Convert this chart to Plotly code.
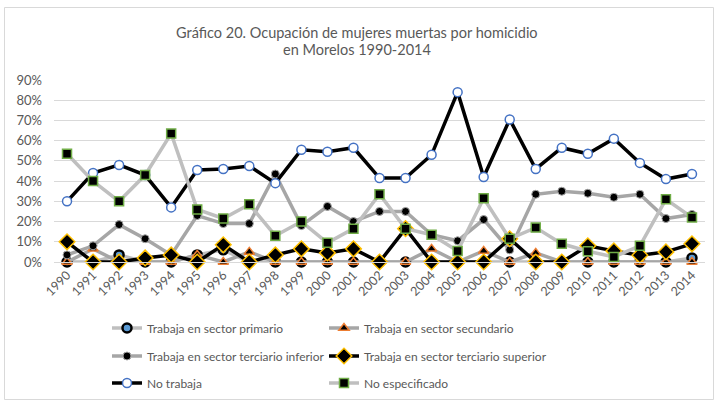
import plotly.graph_objects as go

years = list(range(1990, 2015))
y_ticks = [0, 10, 20, 30, 40, 50, 60, 70, 80, 90]

primario = [0, 0, 3.5, 0, 0, 3.5, 6, 0, 0, 0, 0, 0, 0, 0, 0, 0, 0, 0, 0, 0, 0, 0, 0, 0, 2]
secundario = [0, 6.5, 0, 0, 0, 3.5, 0, 5, 0, 0, 0, 0, 0, 0, 6.5, 0, 5.5, 0, 4.5, 0, 0, 0, 0, 0, 0]
terc_inf = [3.5, 8, 18.5, 11.5, 3.5, 23, 19, 19, 43.5, 18, 27.5, 20, 25, 25, 13.5, 10.5, 21, 6, 33.5, 35, 34, 32, 33.5, 21.5, 23.5]
terc_sup = [10, 0, 0, 2, 3.5, 0, 8.5, 0, 3.5, 6.5, 4.5, 6.5, 0, 16.5, 0, 0, 0, 11.5, 0, 0, 8, 5.5, 3.3, 5, 9]
no_trabaja = [30, 44, 48, 43, 27, 45.5, 46, 47.5, 39, 55.5, 54.5, 56.5, 41.5, 41.5, 53, 84, 42, 70.5, 46, 56.5, 53.5, 61, 49, 41, 43.5]
no_esp = [53.5, 40, 30, 43, 63.5, 26, 21.5, 28.5, 13, 20, 9.5, 16.5, 33.5, 16.5, 13.5, 5.5, 31.5, 11.5, 17, 9, 5.3, 2.5, 8, 31, 22]

title_lines = ["Gráfico 20. Ocupación de mujeres muertas por homicidio", "en Morelos 1990-2014"]

FONT = "Lato"
TXT = "#595959"

series = [
    ("Trabaja en sector primario", primario, "#bfbfbf", dict(symbol="circle", size=9, color="#5b9bd5", line=dict(color="#000000", width=2.5))),
    ("Trabaja en sector secundario", secundario, "#a6a6a6", dict(symbol="triangle-up", size=9, color="#000000", line=dict(color="#ed7d31", width=1.5))),
    ("Trabaja en sector terciario inferior", terc_inf, "#a6a6a6", dict(symbol="circle", size=8, color="#000000", line=dict(color="#a6a6a6", width=1))),
    ("Trabaja en sector terciario superior", terc_sup, "#000000", dict(symbol="diamond", size=12, color="#000000", line=dict(color="#ffc000", width=1.5))),
    ("No trabaja", no_trabaja, "#000000", dict(symbol="circle", size=9, color="#ffffff", line=dict(color="#4472c4", width=1.5))),
    ("No especificado", no_esp, "#bfbfbf", dict(symbol="square", size=9, color="#000000", line=dict(color="#70ad47", width=1.5))),
]

W, H = 714, 400
L, R, T, B = 54, 9, 80, 138
leg_rows = [328, 356, 383]
leg_cols = [107, 324]

fig = go.Figure()
legends = {}
for i, (name, vals, lc, mk) in enumerate(series):
    key = "legend" if i == 0 else f"legend{i + 1}"
    fig.add_trace(go.Scatter(
        x=years, y=vals, name=name, mode="lines+markers",
        line=dict(color=lc, width=3.5), marker=mk, cliponaxis=False, legend=key,
    ))
    legends[key] = dict(
        orientation="v", xref="container", yref="container",
        x=leg_cols[i % 2] / W, y=1 - leg_rows[i // 2] / H, xanchor="left", yanchor="middle",
        font=dict(family=FONT, size=12, color=TXT), bgcolor="rgba(0,0,0,0)",
        itemwidth=30,
    )

fig.update_layout(
    width=W, height=H,
    margin=dict(l=L, r=R, t=T, b=B, autoexpand=False),
    paper_bgcolor="white", plot_bgcolor="white",
    font=dict(family=FONT, color=TXT),
    showlegend=True,
    **legends,
)
for txt, ypx in zip(title_lines, [32, 50]):
    fig.add_annotation(text=txt, xref="paper", yref="paper", showarrow=False,
                       x=(W / 2 - L) / (W - L - R), y=(H - B - ypx) / (H - T - B),
                       xanchor="center", yanchor="middle",
                       font=dict(family=FONT, size=14.5, color=TXT))
fig.update_xaxes(
    range=[1989.5, 2014.5], tickvals=years, ticktext=[str(y) for y in years],
    tickangle=-45, tickfont=dict(family=FONT, size=12.5, color=TXT),
    showgrid=False, showline=True, linecolor="#d9d9d9", linewidth=1, ticks="", zeroline=False,
)
fig.update_yaxes(
    range=[0, 90], tickvals=y_ticks, ticktext=[f"{v}%" for v in y_ticks],
    tickfont=dict(family=FONT, size=13, color=TXT),
    showgrid=True, gridcolor="#d9d9d9", gridwidth=1, zeroline=False, showline=False,
    ticklabelstandoff=11,
)

# chart border
pw, ph = W - L - R, H - T - B
def px_to_paper_x(px):
    return (px - L) / pw
def px_to_paper_y(py):
    return (H - B - py) / ph
fig.add_shape(type="rect", xref="paper", yref="paper",
              x0=px_to_paper_x(4.5), x1=px_to_paper_x(713.5),
              y0=px_to_paper_y(399.5), y1=px_to_paper_y(7.5),
              line=dict(color="#d9d9d9", width=1), fillcolor="rgba(0,0,0,0)", layer="below")

fig.write_html("out.html", config={"displayModeBar": False},
               post_script="document.body.style.margin='0';document.body.style.padding='0';")
